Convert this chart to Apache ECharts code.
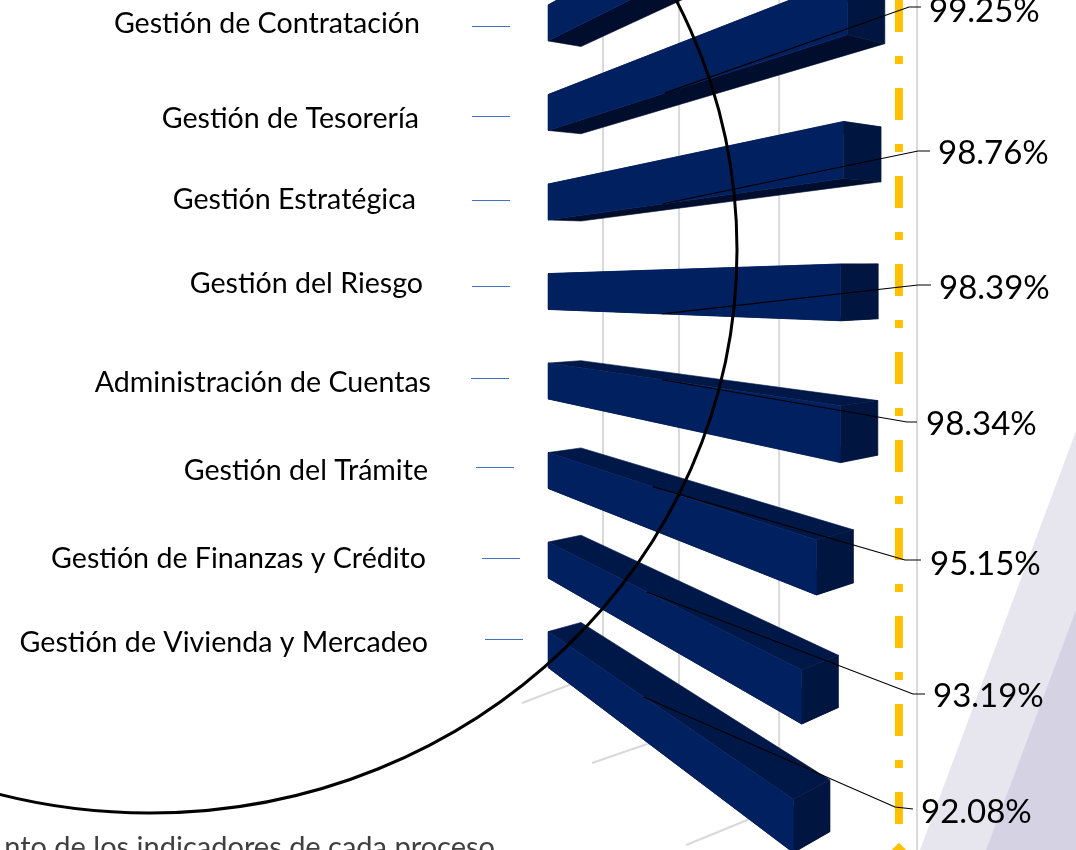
<!DOCTYPE html>
<html>
<head>
<meta charset="utf-8">
<title>Cumplimiento de indicadores</title>
<script src="https://cdn.jsdelivr.net/npm/echarts@6/dist/echarts.min.js"></script>
<style>
  html, body { margin: 0; background: #fff; }
  #main { width: 1076px; height: 850px; }
</style>
</head>
<body>
<div id="main"></div>
<script>
// datos de la grafica
var categories = ['Gestión de Contratación', 'Gestión de Tesorería', 'Gestión Estratégica', 'Gestión del Riesgo',
  'Administración de Cuentas', 'Gestión del Trámite', 'Gestión de Finanzas y Crédito', 'Gestión de Vivienda y Mercadeo'];
var values = [99.9, 99.25, 98.76, 98.39, 98.34, 95.15, 93.19, 92.08];
var gridValues = [66.8, 76.9, 90.2, 108.5];
var targetValue = [106.1];

// layout of the slide annotations, apart from the data
var labelPos = [[420, 24], [419, 119], [416, 200], [423, 284], [431, 383], [428, 471], [426, 559], [428, 643]];
var tickPos = [[472, 26], [472, 116], [472, 200], [472, 286], [471, 378], [476, 467], [482, 558], [485, 639]];
var leaderPos = [null, [[909, 7], [921, 7]], [[918, 151], [930, 151]], [[918, 285], [931, 285]], [[907, 422], [917, 422]],
  [[905, 560], [921, 560]], [[913, 694], [925, 694]], [[895, 807], [913, 809]]];
var valueLabelPos = [null, [929, 11], [938, 153], [939, 288], [926, 424], [930, 564], [933, 696], [921, 812]];
var gridFoot = [[672, -81, 31], [733, -87, 30], [807, -93, 38], [900, 0, 0]];

var axisMin = 59.5, axisMax = 108.5;
var FONT = 'Lato, "Open Sans", sans-serif';

// perspective: all bar edges run to one vanishing point
var vanishX = 48, vanishY = 290;

function fan(y, x0, x) {
  return vanishY + (y - vanishY) * (x - vanishX) / (x0 - vanishX);
}

function back(p, x0) {
  var dx = 33 + 0.015 * (p[0] - x0);
  var dy = -(p[1] - 265) * (0.025 + (p[0] - x0) * 0.000044);
  return [p[0] + dx, p[1] + dy];
}

function face(points, color) {
  return { type: 'polygon', shape: { points: points }, style: { fill: color, stroke: color, lineWidth: 0.6 } };
}

function renderBar(params, api) {
  var i = api.value(1);
  var base = api.coord([axisMin, i]);
  var end = api.coord([api.value(0), i]);
  var h = api.size([0, 1])[1] * 0.4;
  var x0 = base[0], x1 = end[0];
  var t0 = base[1] - h / 2, b0 = base[1] + h / 2;
  var tl = [x0, t0], bl = [x0, b0];
  var tr = [x1, fan(t0, x0, x1)], br = [x1, fan(b0, x0, x1)];
  return {
    type: 'group',
    children: [
      face([tl, back(tl, x0), back(tr, x0), tr], '#001848'),
      face([bl, back(bl, x0), back(br, x0), br], '#000d2c'),
      face([tr, back(tr, x0), back(br, x0), br], '#00153f'),
      face([tl, tr, br, bl], '#002060')
    ]
  };
}

function renderGrid(params, api) {
  var x = api.coord([api.value(0), 0])[0];
  var foot = gridFoot[params.dataIndex];
  return {
    type: 'polyline',
    shape: { points: [[x, 0], [x, foot[0]], [x + foot[1], foot[0] + foot[2]]] },
    style: { fill: null, stroke: '#d9d9d9', lineWidth: 2 }
  };
}

function renderTarget(params, api) {
  var x = api.coord([api.value(0), 0])[0];
  return {
    type: 'group',
    children: [
      { type: 'line', shape: { x1: x, y1: 0, x2: x, y2: 843 },
        style: { stroke: '#ffc000', lineWidth: 8, lineDash: [32, 24, 8, 24] } },
      face([[x, 843], [x + 9, 852], [x, 861], [x - 9, 852]], '#ffc000')
    ]
  };
}

function renderLeader(params, api) {
  var i = api.value(1);
  var pos = leaderPos[i];
  if (!pos) return null;
  var base = api.coord([axisMin, i]);
  var end = api.coord([api.value(0), i]);
  var h = api.size([0, 1])[1] * 0.4;
  var x0 = base[0];
  var x = x0 + (end[0] - x0) * 0.39;
  // the leader starts on the lower edge for the rising bars, upper edge for the falling ones
  var y0 = base[1] < vanishY + 10 ? base[1] + h / 2 : base[1] - h / 2;
  var lab = valueLabelPos[i];
  return {
    type: 'group',
    children: [
      { type: 'polyline', shape: { points: [[x, fan(y0, x0, x)]].concat(pos) },
        style: { fill: null, stroke: '#000', lineWidth: 1.2 } },
      { type: 'text', style: { x: lab[0], y: lab[1], text: api.value(0).toFixed(2) + '%',
        fill: '#000', font: '33px ' + FONT, align: 'left', verticalAlign: 'middle' } }
    ]
  };
}

var graphics = [
  { type: 'polygon', z: 0, shape: { points: [[1076, 431], [1076, 850], [920, 850]] }, style: { fill: '#e7e6ef' } },
  { type: 'polygon', z: 0, shape: { points: [[1076, 610], [1076, 850], [986, 850]] }, style: { fill: '#d5d3e3' } },
  { type: 'ellipse', z: 50, shape: { cx: 150, cy: 250, rx: 587, ry: 563 },
    style: { fill: null, stroke: '#000', lineWidth: 3 } },
  { type: 'text', z: 50, style: { x: 495, y: 848, text: 'nto de los indicadores de cada proceso',
    fill: '#404040', font: '29px ' + FONT, align: 'right', verticalAlign: 'middle' } }
];
categories.forEach(function (name, i) {
  graphics.push({ type: 'text', z: 50, style: { x: labelPos[i][0], y: labelPos[i][1], text: name,
    fill: '#000', font: '28.6px ' + FONT, align: 'right', verticalAlign: 'middle' } });
  graphics.push({ type: 'line', z: 50, shape: { x1: tickPos[i][0], y1: tickPos[i][1] + 0.5, x2: tickPos[i][0] + 38, y2: tickPos[i][1] + 0.5 },
    style: { stroke: '#4472c4', lineWidth: 1 } });
});

var barData = values.map(function (v, i) { return [v, i]; });

var myChart = echarts.init(document.getElementById('main'));
var option = {
  animation: false,
  grid: { left: 548, width: 369, top: 0, height: 694.25 },
  xAxis: { type: 'value', min: axisMin, max: axisMax, show: false },
  // rows are numbered 0..7, the first row starts a little above the page
  yAxis: { type: 'value', inverse: true, min: -0.257, max: 7.5, show: false },
  graphic: graphics,
  series: [
    { type: 'custom', renderItem: renderGrid, data: gridValues.map(function (v) { return [v, 0]; }), z: 1 },
    { type: 'custom', renderItem: renderBar, data: barData, z: 2 },
    { type: 'custom', renderItem: renderTarget, data: targetValue.map(function (v) { return [v, 0]; }), z: 3 },
    { type: 'custom', renderItem: renderLeader, data: barData, z: 4 }
  ]
};
option && myChart.setOption(option);
</script>
</body>
</html>
